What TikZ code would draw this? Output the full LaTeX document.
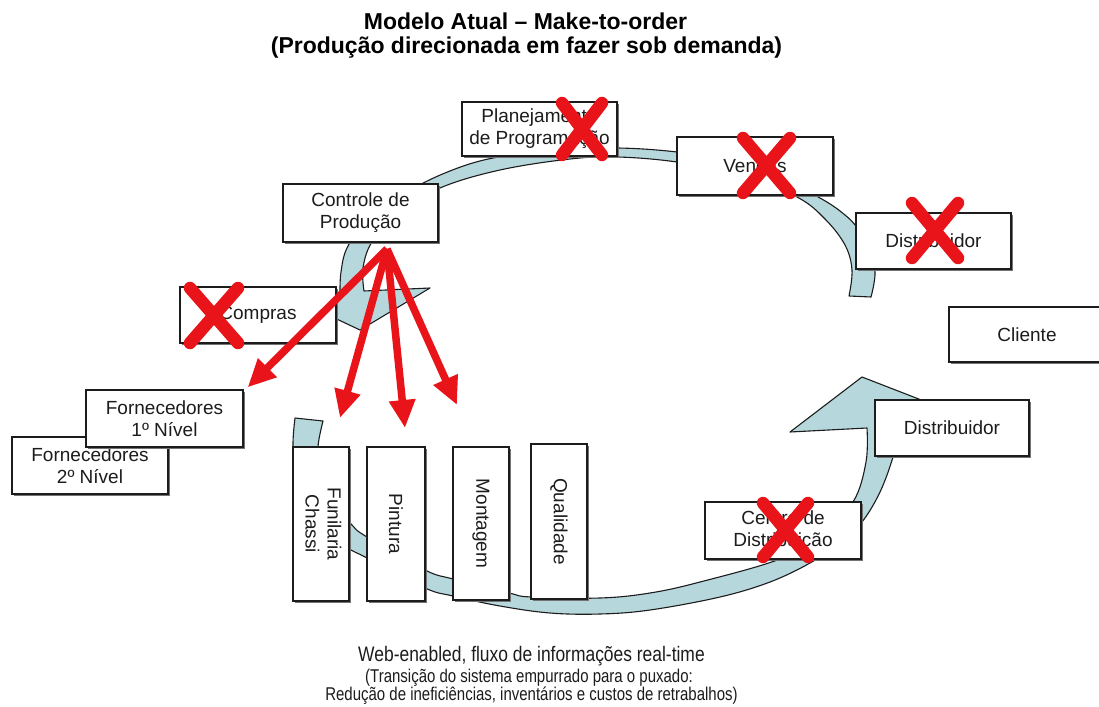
\documentclass[tikz,border=0pt]{standalone}
\usepackage{fontspec}
\setmainfont{Liberation Sans}
\usetikzlibrary{arrows.meta,shadows}

\definecolor{ribbonfill}{RGB}{182,216,221}
\definecolor{xred}{RGB}{232,20,26}
\definecolor{ink}{RGB}{28,28,28}

% red cross: centre (#1,#2), half width #3, half height #4
\newcommand\redcross[4]{%
  \draw[xstroke] (#1-#3,#2-#4) -- (#1+#3,#2+#4)
                 (#1+#3,#2-#4) -- (#1-#3,#2+#4);}

\begin{document}
\begin{tikzpicture}[x=1pt,y=-1pt,
  box/.style={rectangle, draw=ink, line width=1.3pt, fill=white,
    inner sep=0pt, align=center, text=ink,
    font=\fontsize{19}{22}\selectfont,
    general shadow={fill=black!55, shadow xshift=2.2pt, shadow yshift=-2.2pt}},
  sz/.style 2 args={minimum width=#1pt, minimum height=#2pt},
  ribbon/.style={fill=ribbonfill, draw=ink, line width=1.1pt, line join=round},
  order/.style={draw=xred, line width=7.5pt,
    -{Triangle[length=28pt,width=25pt]}},
  xstroke/.style={draw=xred, line width=12.5pt, line cap=round},
  title/.style={font=\fontsize{23}{26}\bfseries\selectfont, anchor=base, inner sep=0pt},
  note/.style={anchor=base, inner sep=0pt, text=ink}]

\path[use as bounding box] (0,0) rectangle (1099,706);
\clip (0,0) rectangle (1099,706);
\fill[white] (0,0) rectangle (1099,706);

% upper curved arrow: from the distributor round the top to production control
\filldraw[ribbon]
  plot[smooth, tension=0.6] coordinates {(871,297) (875,272) (868,247) (856,226)
    (840,211) (820,198) (780,177) (730,161) (677,152) (618,148) (560,150)
    (493,158) (445,173) (400,196) (366,222) (347,248) (341,272) (340,292)}
  -- (292,298) -- (360,330) -- (430,288) -- (364,291)
  -- plot[smooth, tension=0.6] coordinates {(364,291) (363,268) (372,242)
    (398,214) (440,188) (500,170) (570,159) (618,157) (677,162) (740,174)
    (797,197) (825,219) (845,245) (852,270) (849,296)}
  -- cycle;

% lower curved arrow: from the shop floor round the bottom to the distributor
\filldraw[ribbon]
  plot[smooth, tension=0.6] coordinates {(295,418) (293,447) (297,485) (315,520)
    (345,546) (367,558) (425,588) (453,596) (500,606) (550,613) (600,614)
    (650,610) (720,597) (770,582) (810,563) (840,543) (862,522) (880,492)
    (893,457) (898,432)}
  -- (960,415) -- (862,377) -- (790,432) -- (867,428)
  -- plot[smooth, tension=0.6] coordinates {(867,428) (866,462) (853,502)
    (820,535) (780,559) (700,582) (650,593) (600,598) (531,597) (509,593)
    (453,579) (425,570) (367,537) (352,525) (332,500) (321,470) (318,447)
    (323,421)}
  -- cycle;

% titles
\node[title] (title1) at (525.5,30) {Modelo Atual – Make-to-order};
\node[title] (title2) at (526.5,53.5) {(Produção direcionada em fazer sob demanda)};

% process boxes
\node[box, sz={155}{54}] (plan)     at (539.5,129)   {Planejamento\\de Programação};
\node[box, sz={156}{58}] (vendas)   at (755,166)     {Vendas};
\node[box, sz={155}{56}] (dist1)    at (933.5,241)   {Distribuidor};
\node[box, sz={156}{55}] (cliente)  at (1027,334.5)  {Cliente};
\node[box, sz={154}{56}] (dist2)    at (952,428)     {Distribuidor};
\node[box, sz={156}{57}] (centro)   at (783,530.5)   {Centro de\\Distribuição};
\node[box, sz={155}{58}] (controle) at (360.5,213)   {Controle de\\Produção};
\node[box, sz={156}{56}] (compras)  at (258,315)     {Compras};
\node[box, sz={156}{57}] (forn2)    at (90,465.5)    {Fornecedores\\2º Nível};
\node[box, sz={157}{57}] (forn1)    at (164.5,418.5) {Fornecedores\\1º Nível};

\node[box, sz={56}{154}] (funilaria) at (321,524)
  {\rotatebox{-90}{\begin{tabular}{@{}c@{}}Funilaria\\Chassi\end{tabular}}};
\node[box, sz={58}{154}] (pintura)   at (396,524)   {\rotatebox{-90}{Pintura}};
\node[box, sz={56}{153}] (montagem)  at (481,523.5) {\rotatebox{-90}{Montagem}};
\node[box, sz={56}{155}] (qualidade) at (559,521.5) {\rotatebox{-90}{Qualidade}};

% orders issued by production control
\coordinate (hub)  at (387,249);
\coordinate (tipB) at (340,418);
\coordinate (tipC) at (405,428);
\coordinate (tipD) at (457,405);
\draw[order] (hub) -- ([shift={(4,-2)}]forn1.north east);
\draw[order] (hub) -- (tipB);
\draw[order] (hub) -- (tipC);
\draw[order] (hub) -- (tipD);

% steps removed from the flow
\redcross{582}{129}{20}{26}
\redcross{766.5}{165.5}{23.5}{27.5}
\redcross{935}{230.5}{23}{27.5}
\redcross{214}{315.5}{24}{27.5}
\redcross{785.5}{530}{22.5}{27}

% caption
\node[note, font=\fontsize{21}{23}\selectfont] (cap1) at (531.5,661.7)
  {\scalebox{0.83}[1]{Web-enabled, fluxo de informações real-time}};
\node[note, font=\fontsize{18.5}{20}\selectfont] (cap2) at (529,682.5)
  {\scalebox{0.81}[1]{(Transição do sistema empurrado para o puxado:}};
\node[note, font=\fontsize{18.5}{20}\selectfont] (cap3) at (531.5,700)
  {\scalebox{0.81}[1]{Redução de ineficiências, inventários e custos de retrabalhos)}};
\end{tikzpicture}
\end{document}
